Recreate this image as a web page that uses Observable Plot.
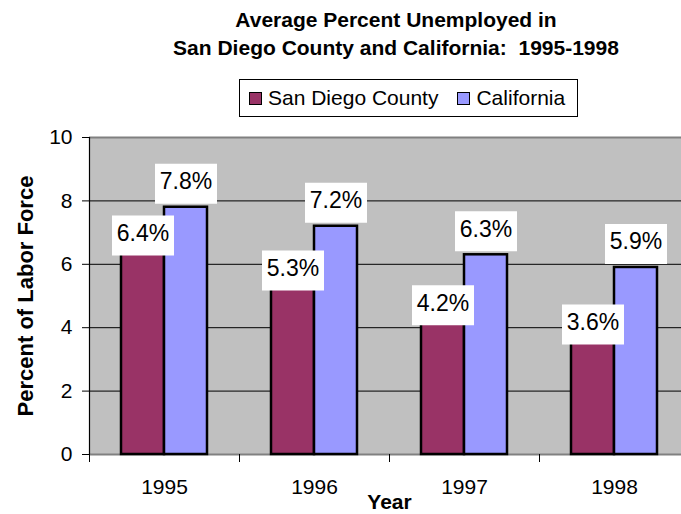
<!DOCTYPE html>
<html>
<head>
<meta charset="utf-8">
<script src="https://cdn.jsdelivr.net/npm/d3@7"></script>
<script src="https://cdn.jsdelivr.net/npm/@observablehq/plot@0.6"></script>
<style>
  html, body { margin: 0; padding: 0; background: #fff; }
  body { width: 681px; height: 514px; position: relative; overflow: hidden;
         font-family: "Liberation Sans", Arial, Helvetica, sans-serif; color: #000; }
  #title { position: absolute; left: 0; top: 6px; width: 792px; text-align: center;
           font-size: 21px; font-weight: bold; line-height: 28px; }
  #legend { position: absolute; left: 239px; top: 79px; width: 337px; height: 36px;
            border: 1px solid #000; display: flex; align-items: center; font-size: 21px; }
  .sw { display: inline-block; width: 11px; height: 11px; border: 1.5px solid #000; }
  .item { display: flex; align-items: center; }
  #chart { position: absolute; left: 0; top: 117px; }
</style>
</head>
<body>
<div id="title"></div>
<div id="legend"></div>
<div id="chart"></div>
<script>
// ---- data ----
const titleLines = ["Average Percent Unemployed in", "San Diego County and California:\u00a0 1995-1998"];
const years = [1995, 1996, 1997, 1998];
const seriesNames = ["San Diego County", "California"];
const sanDiego = [6.4, 5.3, 4.2, 3.6];
const california = [7.8, 7.2, 6.3, 5.9];
const yTicks = [0, 2, 4, 6, 8, 10];
const yLabel = "Percent of Labor Force";
const xLabel = "Year";
const seriesColors = ["#993366", "#9999ff"];

// ---- title & legend ----
document.getElementById("title").innerHTML = titleLines.join("<br>");
const legend = document.getElementById("legend");
seriesNames.forEach((name, i) => {
  const it = document.createElement("div");
  it.className = "item";
  it.style.marginLeft = i === 0 ? "9px" : "19px";
  it.innerHTML = `<span class="sw" style="background:${seriesColors[i]}"></span><span style="margin-left:6px">${name}</span>`;
  legend.appendChild(it);
});

// ---- chart ----
const rows = years.flatMap((y, i) => [
  {year: y, series: seriesNames[0], value: sanDiego[i]},
  {year: y, series: seriesNames[1], value: california[i]}
]);
const barW = 43 / 150; // bar width in year units
const x1 = d => d.series === seriesNames[0] ? d.year - barW : d.year;
const x2 = d => d.series === seriesNames[0] ? d.year : d.year + barW;
const xc = d => (x1(d) + x2(d)) / 2;
const sdRows = rows.filter(d => d.series === seriesNames[0]);
const caRows = rows.filter(d => d.series === seriesNames[1]);
const boundaries = years.map(y => y - 0.5).concat([years[years.length - 1] + 0.5]);
const gridTicks = yTicks.filter(t => t > yTicks[0] && t < yTicks[yTicks.length - 1]);
const fmt = d => d3.format(".1f")(d.value) + "%";
const boxSymbol = {draw(ctx) { ctx.rect(-31, -20, 62, 40); }};
const font = "'Liberation Sans', Arial, sans-serif";

const chart = Plot.plot({
  width: 681,
  height: 397,
  marginTop: 20,
  marginLeft: 89,
  marginRight: 0,
  marginBottom: 60,
  style: {fontFamily: font, fontSize: "21px", color: "#000", background: "transparent", overflow: "visible"},
  x: {type: "linear", domain: [boundaries[0], boundaries[boundaries.length - 1]], range: [89, 689]},
  y: {domain: [yTicks[0], yTicks[yTicks.length - 1]]},
  color: {domain: seriesNames, range: seriesColors},
  marks: [
    Plot.frame({fill: "#c0c0c0", stroke: null}),
    Plot.ruleY(gridTicks, {stroke: "#000", strokeWidth: 1}),
    Plot.ruleY([yTicks[yTicks.length - 1]], {stroke: "#808080", strokeWidth: 2}),
    Plot.ruleY([yTicks[0]], {stroke: "#808080", strokeWidth: 2}),
    Plot.rectY(rows, {x1, x2, y1: 0, y2: "value", fill: "series", stroke: "#000", strokeWidth: 2.5}),
    Plot.ruleX([boundaries[0]], {stroke: "#000", strokeWidth: 1.2}),
    Plot.axisY({ticks: yTicks, tickSize: 7, tickPadding: 10, fontSize: 21, label: null, stroke: "#000", fill: "#000"}),
    Plot.axisX({ticks: boundaries, tickSize: 8, tickFormat: () => "", label: null, stroke: "#000"}),
    Plot.axisX({ticks: years, tickSize: 0, tickPadding: 25, fontSize: 21, tickFormat: d => String(d), label: null, fill: "#000"}),
    // data label boxes + text
    Plot.dot(sdRows, {x: xc, y: "value", dy: -16, symbol: boxSymbol, fill: "#fff", stroke: null, r: 10}),
    Plot.dot(caRows, {x: xc, y: "value", dy: -23.5, symbol: boxSymbol, fill: "#fff", stroke: null, r: 10}),
    Plot.text(sdRows, {x: xc, y: "value", dy: -18, text: fmt, fontSize: 23, fill: "#000", lineAnchor: "middle"}),
    Plot.text(caRows, {x: xc, y: "value", dy: -25.5, text: fmt, fontSize: 23, fill: "#000", lineAnchor: "middle"}),
    // axis titles
    Plot.text([yLabel], {frameAnchor: "left", dx: -57, rotate: -90, fontSize: 22, fontWeight: "bold", lineAnchor: "bottom", textAnchor: "middle", fill: "#000"}),
    Plot.text([xLabel], {x: () => (years[0] + years[years.length - 1]) / 2, frameAnchor: "bottom", dy: 54, fontSize: 21, fontWeight: "bold", lineAnchor: "bottom", fill: "#000"})
  ]
});
document.getElementById("chart").appendChild(chart);
</script>
</body>
</html>
